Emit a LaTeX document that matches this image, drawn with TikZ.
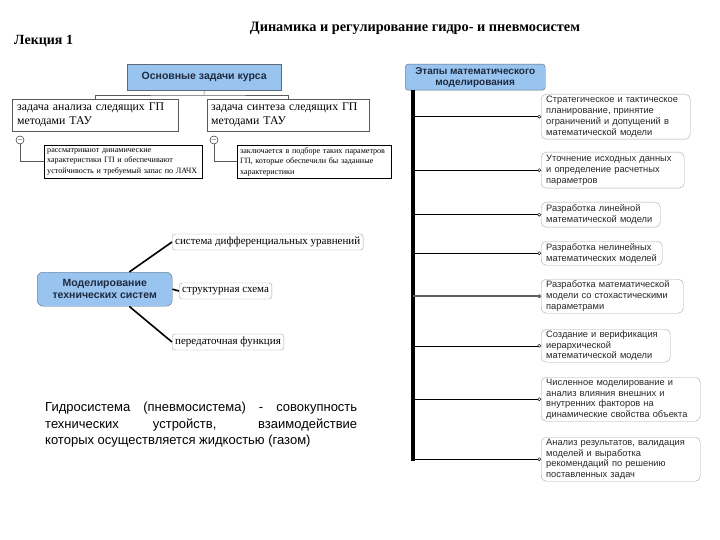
\documentclass[tikz,border=0pt]{standalone}
\usepackage{fontspec}
\setmainfont{Liberation Serif}
\setsansfont{Liberation Sans}
\usepackage{tikz}
\usetikzlibrary{arrows.meta}
\definecolor{cBlau}{RGB}{153,196,240}
\definecolor{cRand}{RGB}{95,105,120}
\definecolor{cSchrift}{RGB}{30,42,62}
\tikzset{
  kopf/.style={draw=cRand,fill=cBlau,text=cSchrift,font=\sffamily\bfseries\fontsize{10.5}{12}\selectfont,align=center,anchor=north west,inner sep=2pt},
  aufgabe/.style={draw=gray!70!black,font=\fontsize{11.8}{14}\selectfont,align=left,anchor=north west,inner xsep=5pt,inner ysep=2pt},
  notiz/.style={draw=black,font=\fontsize{8.1}{10.3}\selectfont,align=left,anchor=north west,inner xsep=3pt,inner ysep=1pt},
  minuskreis/.style={circle,draw,inner sep=0pt,minimum size=7pt,font=\fontsize{7}{7}\selectfont},
  etappe/.style={draw=gray!70,rounded corners=5pt,text=black!85,font=\sffamily\fontsize{9.3}{10.8}\selectfont,align=left,anchor=north west,inner xsep=5pt,inner ysep=1pt},
  blatt/.style={draw=gray!70,rounded corners=3pt,font=\fontsize{11}{12}\selectfont,anchor=west,inner xsep=3pt,inner ysep=1pt,minimum height=16},
  ast/.style={-{Circle[open,length=3.5pt]}},
  zweig/.style={line width=1.6pt}
}
\begin{document}
\begin{tikzpicture}[x=1pt,y=-1pt]
\useasboundingbox (0,0) rectangle (720,540);
\node[font=\bfseries\fontsize{14.3}{16}\selectfont] (titel) at (415,28) {Динамика и регулирование гидро- и пневмосистем};
\node[font=\bfseries\fontsize{14}{16}\selectfont,anchor=west,inner sep=0pt] (lekt) at (14,41) {Лекция 1};
% основные задачи
\node[kopf,minimum width=154,minimum height=26] (tasks) at (127,64) {Основные задачи курса};
\node[aufgabe,text width=156,minimum height=32] (anal) at (12,99) {задача анализа следящих ГП\\методами ТАУ};
\node[aufgabe,text width=154,inner xsep=4pt,minimum height=32] (synth) at (207,99) {задача синтеза следящих ГП\\методами ТАУ};
\coordinate (gabel) at (204,95);
\draw[gray!70!black] (tasks.south) -- (gabel);
\draw[gray!70!black] (anal.north) |- (gabel) -| (synth.north);
\node[minuskreis] (mA) at (20,140) {$-$};
\node[minuskreis] (mS) at (214,140) {$-$};
\node[notiz,text width=152,minimum height=33] (notA) at (44,145) {рассматривают динамические\\характеристики ГП и обеспечивают\\устойчивость и требуемый запас по ЛАЧХ};
\node[notiz,text width=148,minimum height=33] (notS) at (237,145) {заключается в подборе таких параметров\\ГП, которые обеспечили бы заданные\\характеристики};
\draw[gray!70!black] (mA.south) |- (notA.west);
\draw[gray!70!black] (mS.south) |- (notS.west);
% этапы моделирования
\node[kopf,rounded corners=3pt,minimum width=140,minimum height=26,font=\sffamily\bfseries\fontsize{10}{11}\selectfont] (etapy) at (405,64) {Этапы математического\\моделирования};
\node[etappe,text width=139,minimum height=45] (e1) at (541,94) {Стратегическое и тактическое\\планирование, принятие\\ограничений и допущений в\\математической модели};
\node[etappe,text width=133,minimum height=36] (e2) at (541,152) {Уточнение исходных данных\\и определение расчетных\\параметров};
\node[etappe,text width=109,minimum height=25] (e3) at (541,202) {Разработка линейной\\математической модели};
\node[etappe,text width=111,minimum height=24] (e4) at (541,241) {Разработка нелинейных\\математических моделей};
\node[etappe,text width=132,minimum height=34] (e5) at (541,279) {Разработка математической\\модели со стохастическими\\параметрами};
\node[etappe,text width=119,minimum height=33] (e6) at (541,329) {Создание и верификация\\иерархической\\математической модели};
\node[etappe,text width=149,minimum height=44] (e7) at (541,377) {Численное моделирование и\\анализ влияния внешних и\\внутренних факторов на\\динамические свойства объекта};
\node[etappe,text width=149,minimum height=44] (e8) at (541,437) {Анализ результатов, валидация\\моделей и выработка\\рекомендаций по решению\\поставленных задач};
\coordinate (sOben) at (413,90);
\coordinate (sUnten) at (413,461);
\draw[line width=3.5pt] (sOben) -- (sUnten);
\draw[ast] (e1.west -| sOben) -- (e1.west);
\draw[ast] (e2.west -| sOben) -- (e2.west);
\draw[ast] (e3.west -| sOben) -- (e3.west);
\draw[ast] (e4.west -| sOben) -- (e4.west);
\draw[ast,line width=1.6pt,gray!75!black] (e5.west -| sOben) -- (e5.west);
\draw[ast] (e6.west -| sOben) -- (e6.west);
\draw[ast] (e7.west -| sOben) -- (e7.west);
\draw[ast] (e8.west -| sOben) -- (e8.west);
% моделирование технических систем
\node[kopf,rounded corners=6pt,minimum width=135,minimum height=34] (model) at (37,272) {Моделирование\\технических систем};
\node[blatt] (diffur) at (172,242) {система дифференциальных уравнений};
\node[blatt] (struct) at (179,291) {структурная схема};
\node[blatt] (transfer) at (172,342) {передаточная функция};
\draw[zweig] (model.35) -- (diffur.west);
\draw[zweig] (model.east) -- (struct.west);
\draw[zweig] (model.-35) -- (transfer.west);
\node[anchor=north west,inner sep=0pt,text width=312,align=justify,font=\sffamily\fontsize{13}{16.5}\selectfont] (defn) at (45,402) {Гидросистема (пневмосистема) - совокупность\linebreak технических устройств, взаимодействие\linebreak которых осуществляется жидкостью (газом)};
\end{tikzpicture}
\end{document}
